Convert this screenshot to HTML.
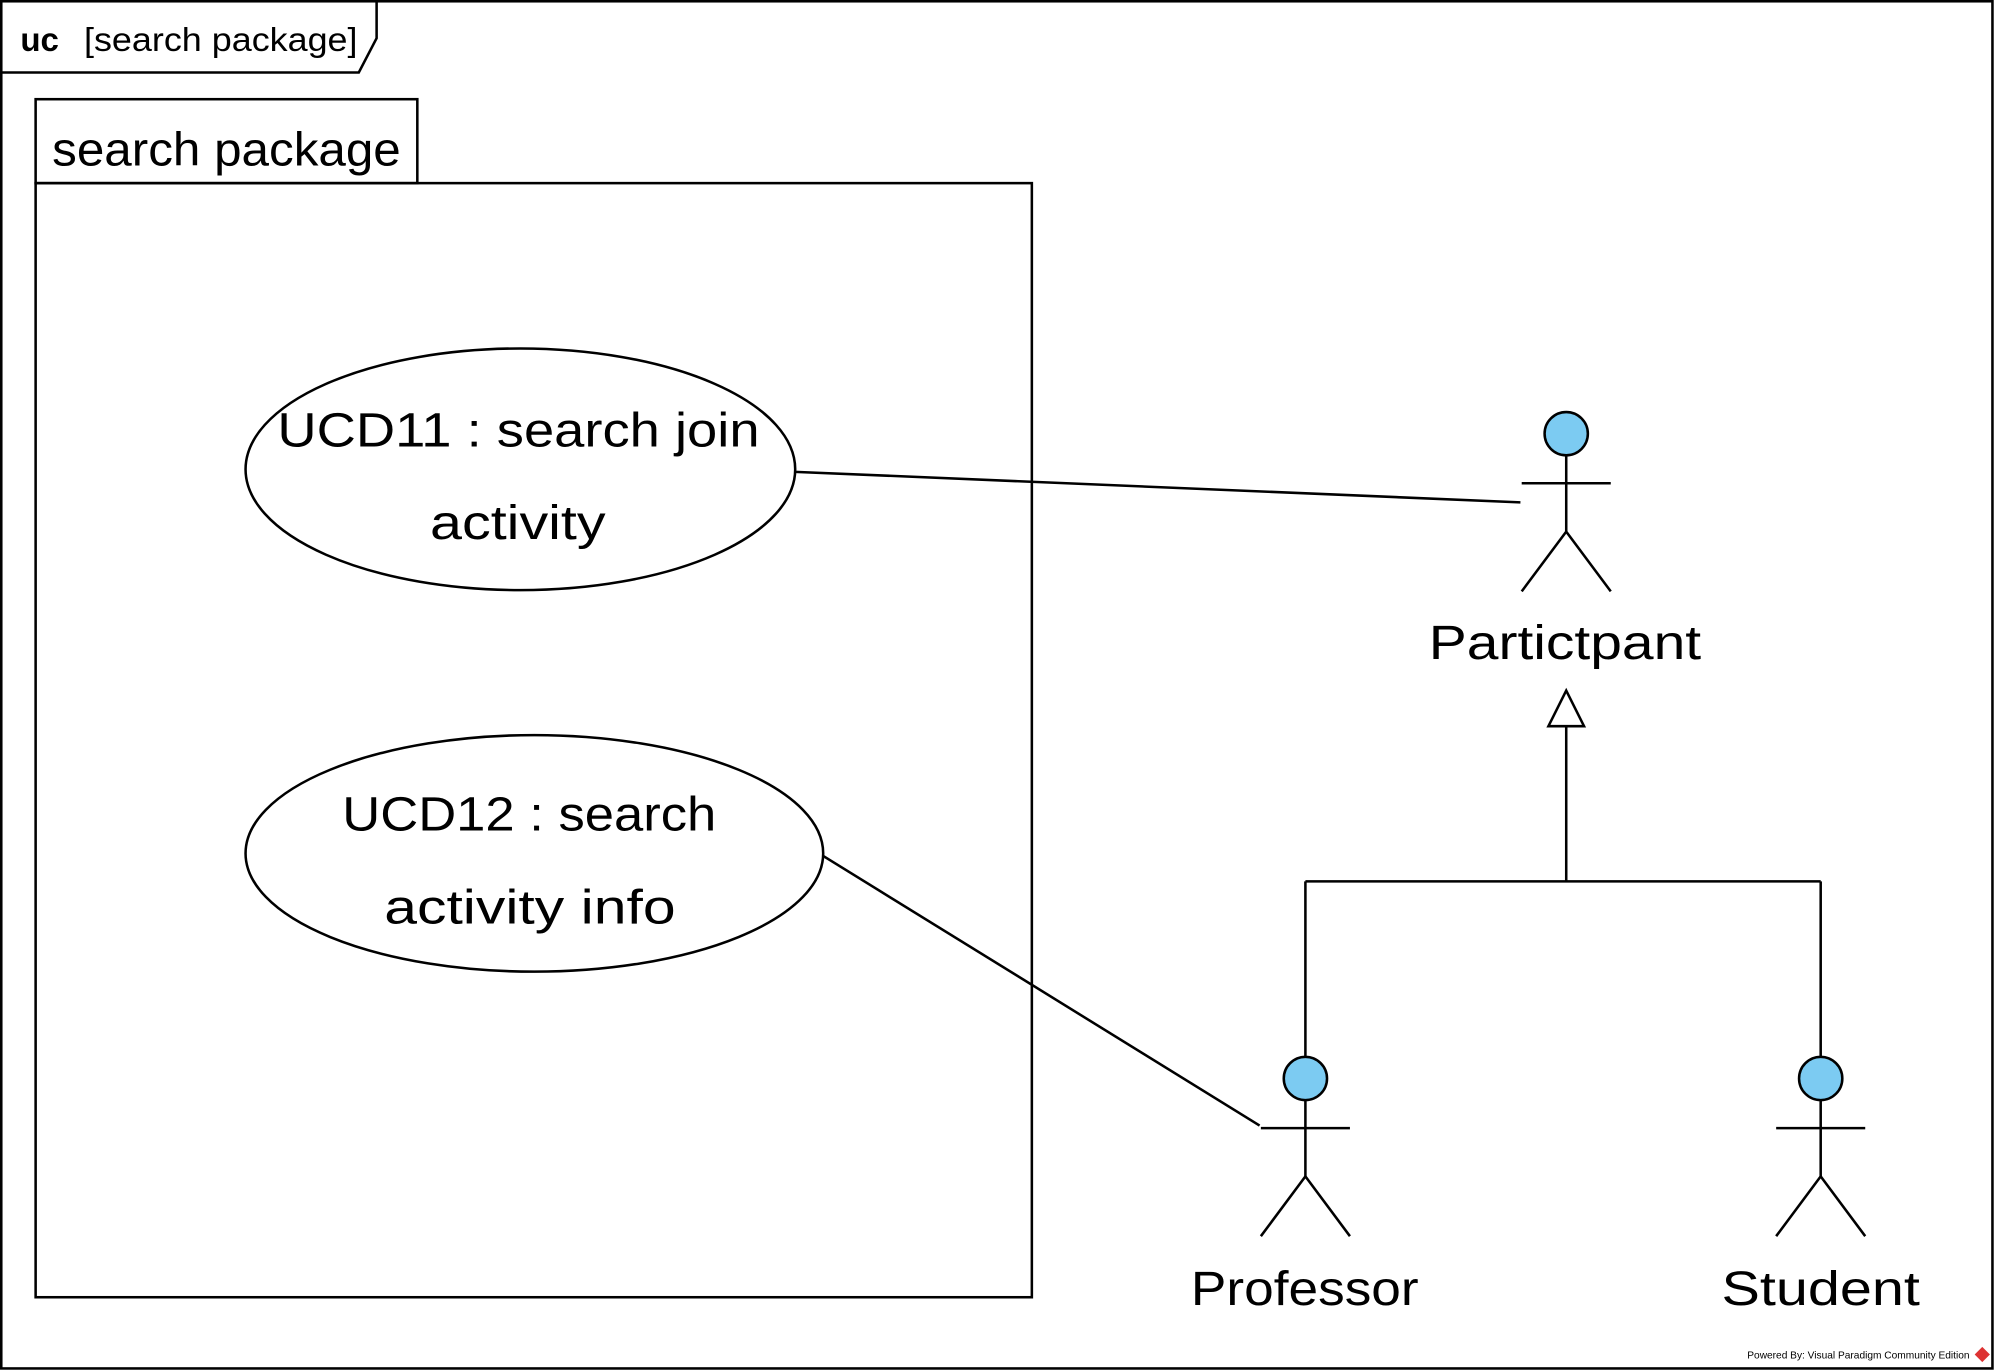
<!DOCTYPE html>
<html><head><meta charset="utf-8"><style>
html,body{margin:0;padding:0;background:#fff;}
svg{display:block;}
text{font-family:"Liberation Sans","DejaVu Sans",sans-serif;fill:#000;}
</style></head><body>
<svg width="1995" height="1371" viewBox="0 0 1568 1078" preserveAspectRatio="none" xmlns="http://www.w3.org/2000/svg">
<rect x="0" y="0" width="1568" height="1078" fill="#fff"/>
<g fill="none" stroke="#000" stroke-width="2">
<rect x="1" y="1" width="1565" height="1075"/>
<polyline points="1,57 282,57 296,30 296,1"/>
<rect x="28" y="78" width="300" height="66"/>
<rect x="28" y="144" width="783" height="876"/>
<ellipse cx="409" cy="369" rx="216" ry="95"/>
<ellipse cx="420" cy="671" rx="227" ry="93"/>
<line x1="625" y1="371" x2="1195" y2="395"/>
<line x1="647" y1="673" x2="990" y2="885"/>
<line x1="1231" y1="571" x2="1231" y2="693"/>
<line x1="1026" y1="693" x2="1431" y2="693"/>
<line x1="1026" y1="693" x2="1026" y2="831"/>
<line x1="1431" y1="693" x2="1431" y2="831"/>
<polygon points="1231,543 1217,571 1245,571" fill="#fff"/>
<g>
<line x1="1231" y1="358" x2="1231" y2="418"/><line x1="1196" y1="380" x2="1266" y2="380"/>
<polyline points="1196,465 1231,418 1266,465"/>
<circle cx="1231" cy="341" r="17" fill="#7ccbf2"/>
</g>
<g>
<line x1="1026" y1="865" x2="1026" y2="925"/><line x1="991" y1="887" x2="1061" y2="887"/>
<polyline points="991,972 1026,925 1061,972"/>
<circle cx="1026" cy="848" r="17" fill="#7ccbf2"/>
</g>
<g>
<line x1="1431" y1="865" x2="1431" y2="925"/><line x1="1396" y1="887" x2="1466" y2="887"/>
<polyline points="1396,972 1431,925 1466,972"/>
<circle cx="1431" cy="848" r="17" fill="#7ccbf2"/>
</g>
</g>
<text x="16" y="40" font-size="26" font-weight="bold">uc</text>
<text x="66" y="40" font-size="26" textLength="215" lengthAdjust="spacingAndGlyphs">[search package]</text>
<text x="41" y="130" font-size="37" textLength="274" lengthAdjust="spacingAndGlyphs">search package</text>
<g font-size="38">
<text x="218" y="351" textLength="379" lengthAdjust="spacingAndGlyphs">UCD11 : search join</text>
<text x="338" y="424" textLength="138" lengthAdjust="spacingAndGlyphs">activity</text>
<text x="269" y="653" textLength="294" lengthAdjust="spacingAndGlyphs">UCD12 : search</text>
<text x="302" y="726" textLength="229" lengthAdjust="spacingAndGlyphs">activity info</text>
<text x="1123" y="518" textLength="214" lengthAdjust="spacingAndGlyphs">Partictpant</text>
<text x="936" y="1026" textLength="179" lengthAdjust="spacingAndGlyphs">Professor</text>
<text x="1353" y="1026" textLength="156" lengthAdjust="spacingAndGlyphs">Student</text>
</g>
<text x="1548" y="1068" font-size="8" text-anchor="end" fill="#555">Powered By: Visual Paradigm Community Edition</text>
<polygon points="1558,1059 1564,1065 1558,1071 1552,1065" fill="#d33"/>
</svg>
</body></html>
